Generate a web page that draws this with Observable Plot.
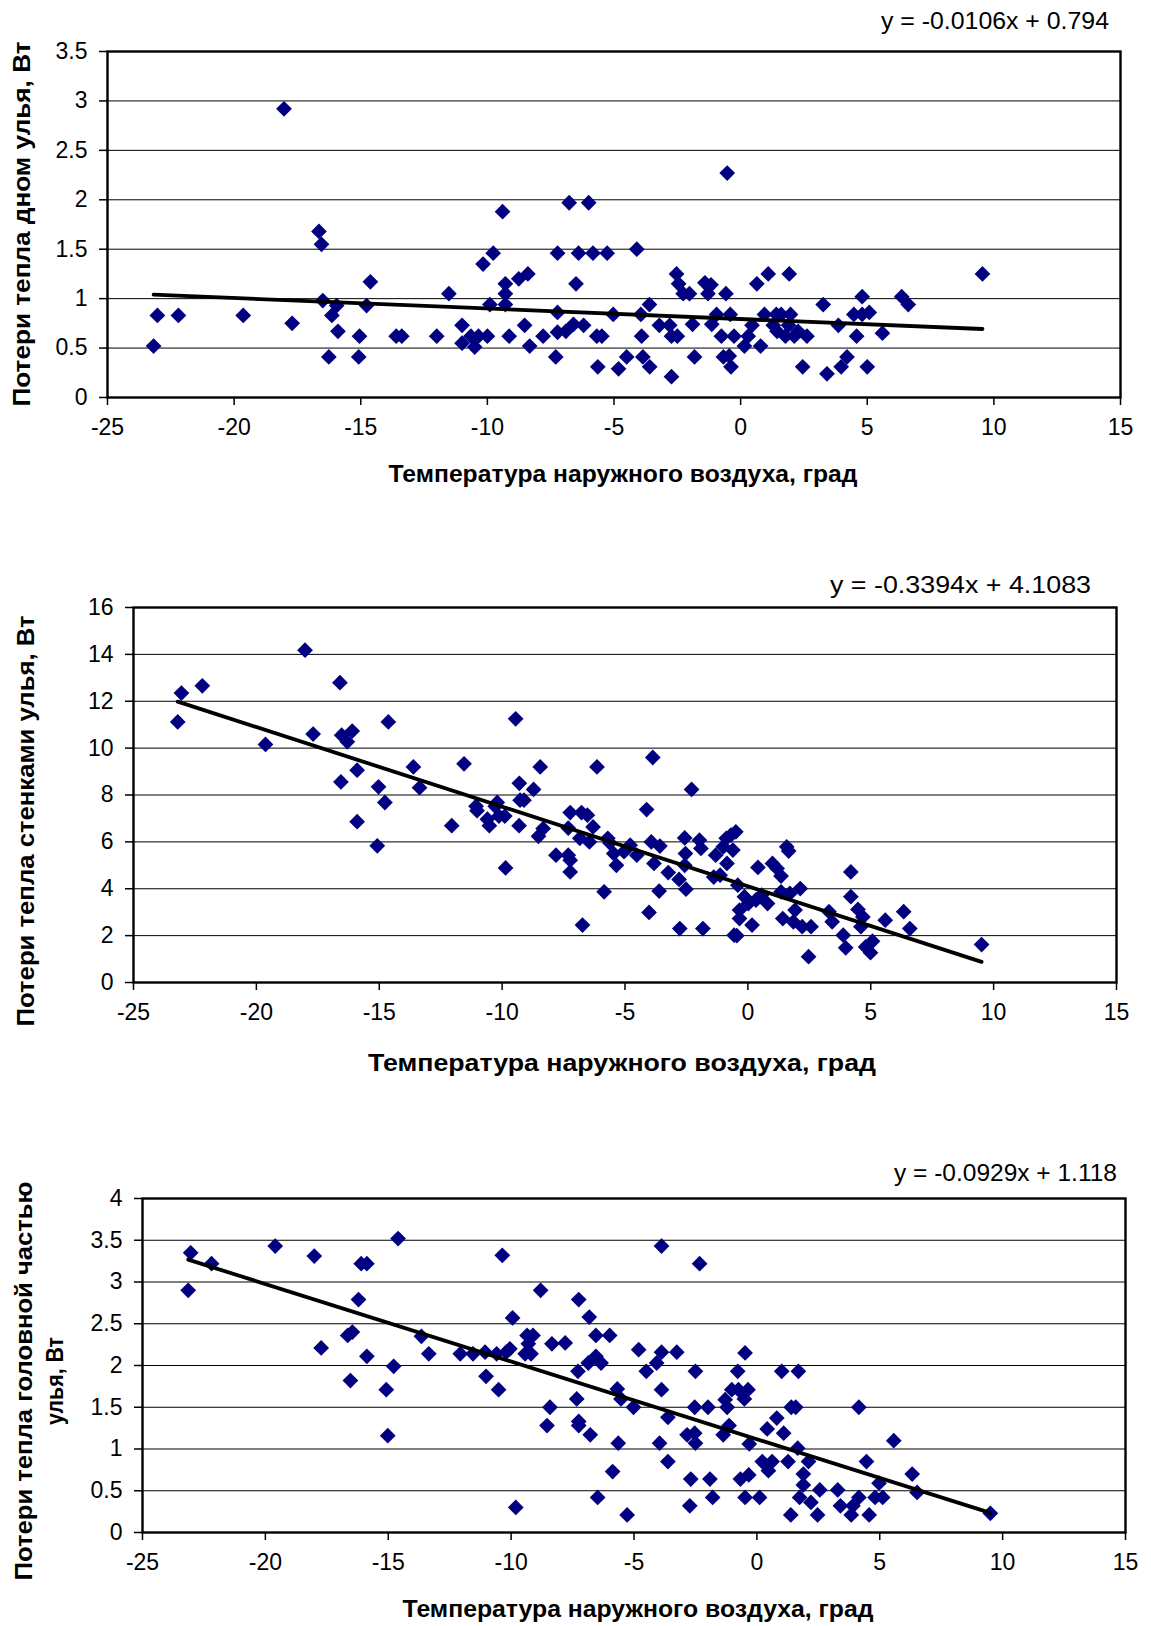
<!DOCTYPE html>
<html><head><meta charset="utf-8">
<script src="https://cdn.jsdelivr.net/npm/d3@7"></script>
<script src="https://cdn.jsdelivr.net/npm/@observablehq/plot@0.6"></script>
<style>
body{margin:0;background:#fff;}
#wrap{position:relative;width:1151px;height:1626px;font-family:"Liberation Sans",Arial,sans-serif;overflow:hidden;}
#wrap svg{position:absolute;left:0;}
</style></head><body><div id="wrap"></div>
<script>
const xTicks = [-25, -20, -15, -10, -5, 0, 5, 10, 15];
const xTitle = "Температура наружного воздуха, град";

// Panel 1: losses through hive bottom
const bottomTicks = [0, 0.5, 1, 1.5, 2, 2.5, 3, 3.5];
const bottomPts = [
[-23.18,0.52],[-23.03,0.83],[-22.2,0.83],[-19.64,0.83],[-18.03,2.92],[-17.71,0.75],[-16.65,1.68],[-16.55,1.55],[-16.5,0.98],[-16.14,0.83],[-15.95,0.93],[-15.9,0.67],[-16.26,0.41],[-15.05,0.62],[-15.08,0.41],[-14.77,0.93],[-14.62,1.17],[-13.6,0.62],[-13.38,0.62],[-12.0,0.62],[-11.52,1.05],[-11.0,0.73],[-11.0,0.55],[-10.65,0.62],[-10.5,0.51],[-10.35,0.62],[-10.17,1.35],[-10.0,0.62],[-9.9,0.94],[-9.77,1.46],[-9.4,1.88],[-9.29,1.15],[-9.29,1.05],[-9.29,0.94],[-9.14,0.62],[-8.76,1.2],[-8.53,0.73],[-8.4,1.25],[-8.33,0.52],[-7.8,0.62],
[-7.3,0.41],[-7.23,1.46],[-7.23,0.86],[-7.23,0.66],[-6.77,1.97],[-6.9,0.67],[-6.6,0.74],[-6.5,1.15],[-6.4,1.46],[-6.2,0.73],[-6.0,1.97],[-5.83,1.46],[-5.68,0.62],[-5.64,0.31],[-5.48,0.62],[-5.27,1.46],[-5.03,0.84],[-4.82,0.29],[-4.5,0.41],[-4.1,1.5],[-3.94,0.84],[-3.91,0.62],[-3.86,0.41],[-3.6,0.94],[-3.59,0.31],[-3.21,0.73],[-2.8,0.73],[-2.73,0.62],[-2.73,0.21],[-2.53,1.25],[-2.45,1.15],[-2.5,0.62],[-2.27,1.05],[-2.02,1.05],[-1.9,0.74],[-1.82,0.41],[-1.41,1.16],[-1.17,1.14],[-1.29,1.05],[-1.14,0.74],[-0.95,0.84],[-0.76,0.62],[-0.68,0.41],[-0.58,1.05],[-0.53,2.27],[-0.41,0.84],[-0.38,0.31],[-0.26,0.62],[-0.45,0.42],
[0.15,0.52],[0.3,0.62],[0.45,0.73],[0.64,1.15],[0.79,0.52],[0.94,0.84],[1.09,1.25],[1.29,0.73],[1.41,0.84],[1.6,0.84],[1.44,0.67],[1.77,0.62],[1.92,1.25],[1.97,0.84],[1.89,0.73],[2.12,0.62],[2.27,0.67],[2.45,0.31],[2.62,0.62],[3.26,0.94],[3.41,0.24],[3.86,0.73],[3.97,0.31],[4.2,0.41],[4.47,0.84],[4.58,0.62],[4.8,1.02],[4.8,0.84],[5.0,0.31],[5.08,0.86],[5.6,0.65],[6.36,1.02],[6.62,0.94],[9.55,1.25]
];
const bottomFit = {slope: -0.0106, intercept: 0.794, text: "y = -0.0106x + 0.794"};

// Panel 2: losses through hive walls
const wallTicks = [0, 2, 4, 6, 8, 10, 12, 14, 16];
const wallPts = [
[-23.2,11.12],[-23.05,12.35],[-22.2,12.66],[-19.63,10.16],[-18.02,14.18],[-17.69,10.6],[-16.6,12.79],[-16.56,8.56],[-16.53,10.55],[-16.3,10.27],[-16.1,10.73],[-15.9,9.06],[-15.9,6.86],[-15.08,5.83],[-15.03,8.35],[-14.77,7.68],[-14.63,11.12],[-13.61,9.2],[-13.36,8.31],[-12.05,6.69],[-11.55,9.33],[-11.06,7.52],[-11.02,7.33],[-10.6,6.97],[-10.52,6.69],[-10.28,7.52],[-10.2,7.68],[-10.13,7.1],[-9.86,4.89],[-9.89,7.1],[-9.45,11.25],[-9.31,6.69],[-9.3,8.5],[-9.27,7.78],[-9.11,7.78],[-8.72,8.24],[-8.45,9.2],[-8.52,6.24],[-8.33,6.57],[-7.81,5.43],[-7.31,6.59],[-7.31,5.43],[-7.23,7.25],[-7.23,5.22],[-7.23,4.72],[-6.84,6.15],[-6.77,7.25],[-6.73,2.45],[-6.53,7.14],[-6.45,6.0],[-6.3,6.64],[-6.14,9.2],
[-5.85,3.87],[-5.7,6.15],[-5.62,5.96],[-5.46,5.5],[-5.35,5.0],[-5.04,5.58],[-4.79,5.86],[-4.52,5.43],[-4.12,7.38],[-4.02,2.99],[-3.93,6.0],[-3.87,9.6],[-3.82,5.08],[-3.58,5.82],[-3.61,3.9],[-3.24,4.69],[-2.8,4.4],[-2.77,2.3],[-2.57,6.17],[-2.54,5.5],[-2.57,5.0],[-2.52,3.98],[-2.29,8.24],[-1.97,6.07],[-1.91,5.72],[-1.83,2.3],[-1.39,4.5],[-1.31,5.43],[-1.13,4.58],[-1.0,5.79],[-0.88,6.15],[-0.85,5.08],[-0.69,6.29],[-0.61,5.65],[-0.49,6.43],[-0.56,2.02],[-0.45,2.0],[-0.41,4.15],[-0.34,3.09],[-0.34,2.73],[-0.14,3.66],[0.02,3.37],[0.17,2.45],[0.41,4.91],[0.33,3.52],[0.56,3.73],[0.8,3.37],[1.0,5.08],[1.19,4.86],[1.35,4.54],[1.35,3.87],[1.42,2.73],[1.58,5.79],[1.66,5.61],[1.71,3.8],[1.85,2.59],[1.92,3.09],[2.13,4.01],[2.21,2.38],[2.57,2.38],[2.47,1.1],[3.3,3.02],[3.43,2.59],[3.88,2.02],[3.98,1.48],[4.19,4.72],[4.19,3.66],[4.48,3.12],[4.68,2.8],[4.6,2.38],[4.79,1.52],[4.99,1.27],[5.07,1.76],[5.59,2.66],[6.34,3.02],[6.59,2.3],[9.51,1.62]
];
const wallFit = {slope: -0.3394, intercept: 4.1083, text: "y = -0.3394x + 4.1083"};

// Panel 3: losses through hive head part
const headTicks = [0, 0.5, 1, 1.5, 2, 2.5, 3, 3.5, 4];
const headPts = [
[-23.04,3.35],[-23.14,2.9],[-22.19,3.22],[-19.6,3.43],[-18.01,3.31],[-17.73,2.21],[-16.65,2.36],[-16.46,2.4],[-16.54,1.82],[-16.21,2.79],[-16.1,3.22],[-15.87,3.22],[-15.87,2.11],[-15.08,1.71],[-15.02,1.16],[-14.78,1.99],[-14.6,3.52],[-13.65,2.35],[-13.35,2.14],[-12.07,2.14],[-11.55,2.14],[-11.06,2.16],[-11.02,1.87],[-10.59,2.14],[-10.51,1.71],[-10.36,3.32],[-10.2,2.16],[-10.05,2.2],[-9.94,2.57],[-9.81,0.3],[-9.43,2.14],[-9.35,2.36],[-9.3,2.26],[-9.19,2.14],[-9.11,2.36],[-8.8,2.9],[-8.54,1.28],[-8.42,1.5],[-8.34,2.26],[-7.8,2.27],[-7.33,1.6],[-7.28,1.93],[-7.25,2.79],[-7.25,1.33],[-7.25,1.28],[-6.86,2.03],[-6.82,2.58],[-6.78,1.17],[-6.55,2.36],[-6.55,2.11],[-6.48,0.42],
[-6.34,2.03],[-5.99,2.36],[-5.87,0.73],[-5.68,1.72],[-5.64,1.07],[-5.53,1.6],[-5.28,0.21],[-5.02,1.5],[-4.81,2.19],[-4.5,1.93],[-4.08,2.03],[-3.96,1.07],[-3.88,3.43],[-3.88,2.16],[-3.88,1.71],[-3.62,1.38],[-3.62,0.85],[-3.26,2.16],[-2.84,1.17],[-2.73,0.32],[-2.69,0.64],[-2.53,1.5],[-2.5,1.93],[-2.53,1.19],[-2.5,1.07],[-2.33,3.22],[-1.99,1.5],[-1.91,0.64],[-1.8,0.42],[-1.37,1.17],[-1.29,1.59],[-1.21,1.5],[-1.13,1.28],[-1.02,1.71],[-0.78,1.93],[-0.75,1.71],[-0.67,0.64],[-0.51,1.6],[-0.48,2.15],[-0.48,0.42],[-0.36,1.71],[-0.33,0.69],[-0.31,1.06],[0.11,0.42],[0.22,0.85],[0.42,1.24],[0.47,0.74],[0.62,0.85],[0.81,1.37],[1.01,1.93],[1.09,1.19],[1.27,0.85],[1.38,0.21],[1.4,1.5],[1.58,1.5],[1.66,1.01],[1.69,1.93],[1.74,0.42],[1.89,0.7],[1.89,0.57],[2.1,0.85],[2.2,0.36],[2.47,0.21],[2.56,0.51],[3.29,0.51],[3.4,0.32],[3.84,0.21],[3.91,0.32],[4.15,1.5],[4.15,0.42],[4.46,0.85],[4.57,0.21],[4.81,0.42],[4.97,0.59],[5.12,0.42],[5.57,1.1],[6.32,0.7],[6.52,0.48],[9.5,0.23]
];
const headFit = {slope: -0.0929, intercept: 1.118, text: "y = -0.0929x + 1.118"};

const panels = [
  {pts: bottomPts, ticks: bottomTicks, fit: bottomFit, left: 107, right: 1120, top: 51, bottom: 397,
   ylab: ["Потери тепла дном улья, Вт"], ylabX: [21], ylabY: 224, ylabLen: [365],
   eqX: 1109, eqY: 21, eqLen: 228, xtX: 623, xtY: 474, xtLen: 469},
  {pts: wallPts, ticks: wallTicks, fit: wallFit, left: 133, right: 1116, top: 607, bottom: 982,
   ylab: ["Потери тепла стенками улья, Вт"], ylabX: [25], ylabY: 821, ylabLen: [411],
   eqX: 1091, eqY: 585, eqLen: 261, xtX: 622, xtY: 1063, xtLen: 508},
  {pts: headPts, ticks: headTicks, fit: headFit, left: 142, right: 1125, top: 1198, bottom: 1532,
   ylab: ["Потери тепла головной частью", "улья, Вт"], ylabX: [23, 54], ylabY: 1381, ylabLen: [399, 88],
   eqX: 1117, eqY: 1173, eqLen: 223, xtX: 638, xtY: 1609, xtLen: 471}
];

const wrap = document.getElementById("wrap");
const W = 1151, MT = 20, MB = 50;

for (const p of panels) {
  const data = p.pts.map(([x, y]) => ({x, y}));
  const ext = d3.extent(data, d => d.x);
  const trend = ext.map(x => ({x, y: p.fit.slope * x + p.fit.intercept}));
  const yMax = p.ticks[p.ticks.length - 1];
  const chart = Plot.plot({
    width: W,
    height: (p.bottom - p.top) + MT + MB,
    marginLeft: p.left, marginRight: W - p.right, marginTop: MT, marginBottom: MB,
    style: {fontFamily: '"Liberation Sans", Arial, sans-serif', fontSize: "23px", color: "#000", background: "transparent"},
    x: {domain: [-25, 15]},
    y: {domain: [0, yMax]},
    marks: [
      Plot.gridY(p.ticks, {stroke: "#000", strokeOpacity: 1, strokeWidth: 1}),
      Plot.dot(data, {x: "x", y: "y", symbol: "diamond2", r: 7.1, fill: "#000080", stroke: "none"}),
      Plot.line(trend, {x: "x", y: "y", stroke: "#000", strokeWidth: 3.8}),
      Plot.frame({stroke: "#000", strokeWidth: 2.4}),
      Plot.axisY(p.ticks, {tickSize: 8, tickPadding: 12, fontSize: 23, tickFormat: d => String(d), label: null, strokeWidth: 1.5}),
      Plot.axisX(xTicks, {tickSize: 8, tickPadding: 13, fontSize: 23, tickFormat: d => String(d), label: null, strokeWidth: 1.5})
    ]
  });
  chart.style.top = (p.top - MT) + "px";
  wrap.appendChild(chart);
}

// Overlay text: equations and axis titles
const ov = d3.select(wrap).append("svg")
  .attr("width", W).attr("height", 1626)
  .style("top", "0px").style("pointer-events", "none")
  .style("font-family", '"Liberation Sans", Arial, sans-serif');

for (const p of panels) {
  ov.append("text").text(p.fit.text)
    .attr("x", p.eqX - p.eqLen).attr("y", p.eqY).attr("dy", "0.36em")
    .attr("font-size", 23).attr("textLength", p.eqLen).attr("lengthAdjust", "spacingAndGlyphs");
  ov.append("text").text(xTitle)
    .attr("x", p.xtX - p.xtLen / 2).attr("y", p.xtY).attr("dy", "0.36em")
    .attr("font-size", 23).attr("font-weight", "bold")
    .attr("textLength", p.xtLen).attr("lengthAdjust", "spacingAndGlyphs");
  p.ylab.forEach((s, i) => {
    ov.append("text").text(s)
      .attr("transform", `translate(${p.ylabX[i]},${p.ylabY}) rotate(-90)`)
      .attr("x", -p.ylabLen[i] / 2).attr("dy", "0.36em")
      .attr("font-size", 24).attr("font-weight", "bold")
      .attr("textLength", p.ylabLen[i]).attr("lengthAdjust", "spacingAndGlyphs");
  });
}
</script></body></html>
